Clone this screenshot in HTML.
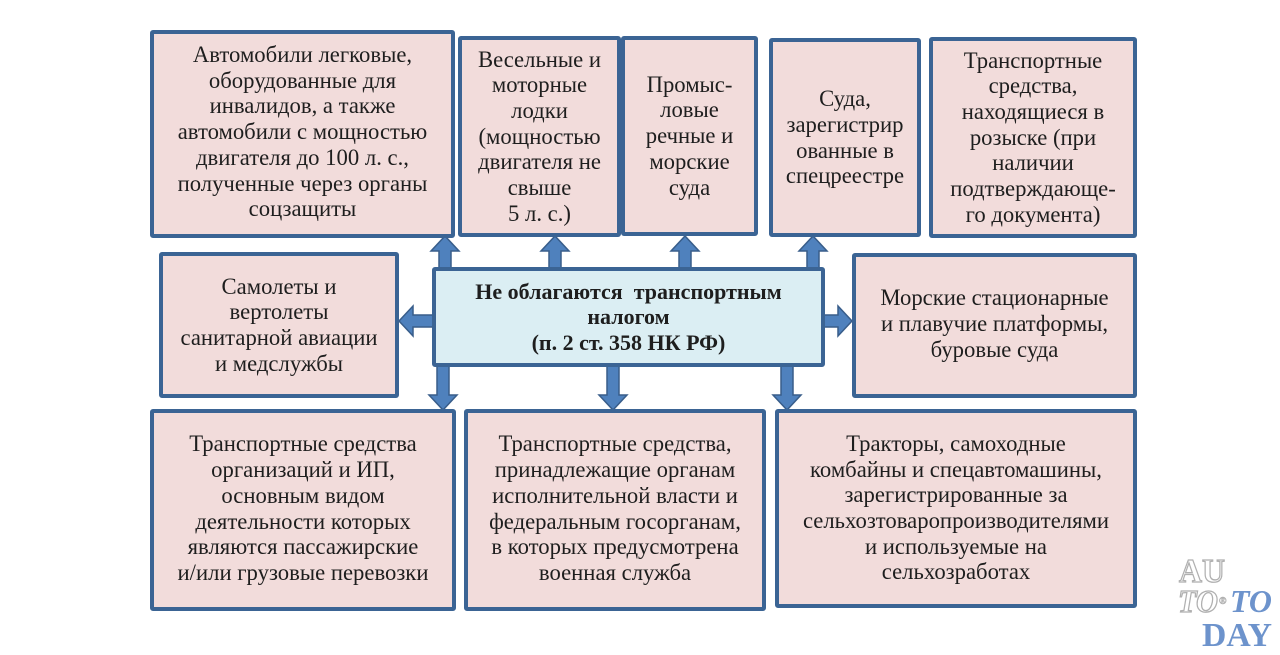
<!DOCTYPE html>
<html><head><meta charset="utf-8">
<style>
html,body{margin:0;padding:0;background:#fff;}
#c{position:relative;width:1280px;height:655px;overflow:hidden;background:#fff;font-family:"Liberation Serif","DejaVu Serif",serif;}
.b{position:absolute;box-sizing:border-box;border:4px solid #3b6494;border-radius:3px;background:#f2dcdb;display:flex;align-items:center;justify-content:center;text-align:center;color:#1e1e1e;font-size:22.7px;line-height:25.7px;white-space:nowrap;}
.ctr{background:#dbeef3;font-weight:bold;font-size:22px;line-height:25.5px;}
svg{position:absolute;left:0;top:0;}
</style></head><body>
<div id="c">
<svg width="1280" height="655" viewBox="0 0 1280 655">
 <g fill="#4f81bd" stroke="#385d8a" stroke-width="1.5" stroke-linejoin="miter">
  <polygon points="439,270 439,251 431,251 445,236 459,251 451,251 451,270"/>
  <polygon points="549,270 549,251 541,251 555,236 569,251 561,251 561,270"/>
  <polygon points="679,270 679,251 671,251 685,236 699,251 691,251 691,270"/>
  <polygon points="807,270 807,251 799,251 813,236 827,251 819,251 819,270"/>
  <polygon points="437,364 437,395 429,395 443,410 457,395 449,395 449,364"/>
  <polygon points="607,364 607,395 599,395 613,410 627,395 619,395 619,364"/>
  <polygon points="781,364 781,395 773,395 787,410 801,395 793,395 793,364"/>
  <polygon points="435,315 413,315 413,306 399,321 413,336 413,327 435,327"/>
  <polygon points="822,315 838,315 838,306 852,321 838,336 838,327 822,327"/>
 </g>
</svg>

<div class="b" style="left:150px;top:30px;width:305px;height:208px;padding-bottom:4px;">Автомобили легковые,<br>оборудованные для<br>инвалидов, а также<br>автомобили с мощностью<br>двигателя до 100 л. с.,<br>полученные через органы<br>соцзащиты</div>

<div class="b" style="left:458px;top:36px;width:163px;height:201px;">Весельные и<br>моторные<br>лодки<br>(мощностью<br>двигателя не<br>свыше<br>5 л. с.)</div>

<div class="b" style="left:621px;top:36px;width:137px;height:200px;">Промыс-<br>ловые<br>речные и<br>морские<br>суда</div>

<div class="b" style="left:769px;top:38px;width:152px;height:199px;">Суда,<br>зарегистрир<br>ованные в<br>спецреестре</div>

<div class="b" style="left:929px;top:37px;width:208px;height:201px;">Транспортные<br>средства,<br>находящиеся в<br>розыске (при<br>наличии<br>подтверждающе-<br>го документа)</div>

<div class="b" style="left:159px;top:252px;width:240px;height:146px;">Самолеты и<br>вертолеты<br>санитарной авиации<br>и медслужбы</div>

<div class="b ctr" style="left:432px;top:267px;width:393px;height:100px;">Не облагаются&nbsp; транспортным<br>налогом<br>(п. 2 ст. 358 НК РФ)</div>

<div class="b" style="left:852px;top:253px;width:285px;height:145px;padding-bottom:3px;">Морские стационарные<br>и плавучие платформы,<br>буровые суда</div>

<div class="b" style="left:150px;top:409px;width:306px;height:202px;padding-bottom:3px;">Транспортные средства<br>организаций и ИП,<br>основным видом<br>деятельности которых<br>являются пассажирские<br>и/или грузовые перевозки</div>

<div class="b" style="left:464px;top:409px;width:302px;height:202px;padding-bottom:3px;">Транспортные средства,<br>принадлежащие органам<br>исполнительной власти и<br>федеральным госорганам,<br>в которых предусмотрена<br>военная служба</div>

<div class="b" style="left:775px;top:409px;width:362px;height:199px;padding-bottom:1px;">Тракторы, самоходные<br>комбайны и спецавтомашины,<br>зарегистрированные за<br>сельхозтоваропроизводителями<br>и используемые на<br>сельхозработах</div>

<svg width="1280" height="655" viewBox="0 0 1280 655">
 <g font-family="Liberation Serif, DejaVu Serif, serif" font-weight="bold">
  <text x="1179" y="582" font-size="34" fill="#fff" stroke="#b0b0b0" stroke-width="1.3" textLength="46" lengthAdjust="spacingAndGlyphs">AU</text>
  <text x="1178" y="612" font-size="32" font-style="italic" fill="#fff" stroke="#b0b0b0" stroke-width="1.3" textLength="40" lengthAdjust="spacingAndGlyphs">TO</text>
  <text x="1219" y="604" font-size="10" fill="#fff" stroke="#b0b0b0" stroke-width="0.6">®</text>
  <text x="1230" y="612" font-size="32" font-style="italic" fill="#6d93cc" textLength="42" lengthAdjust="spacingAndGlyphs">TO</text>
  <text x="1202" y="646" font-size="34" fill="#6d93cc" textLength="70" lengthAdjust="spacingAndGlyphs">DAY</text>
 </g>
</svg>
</div>
</body></html>
